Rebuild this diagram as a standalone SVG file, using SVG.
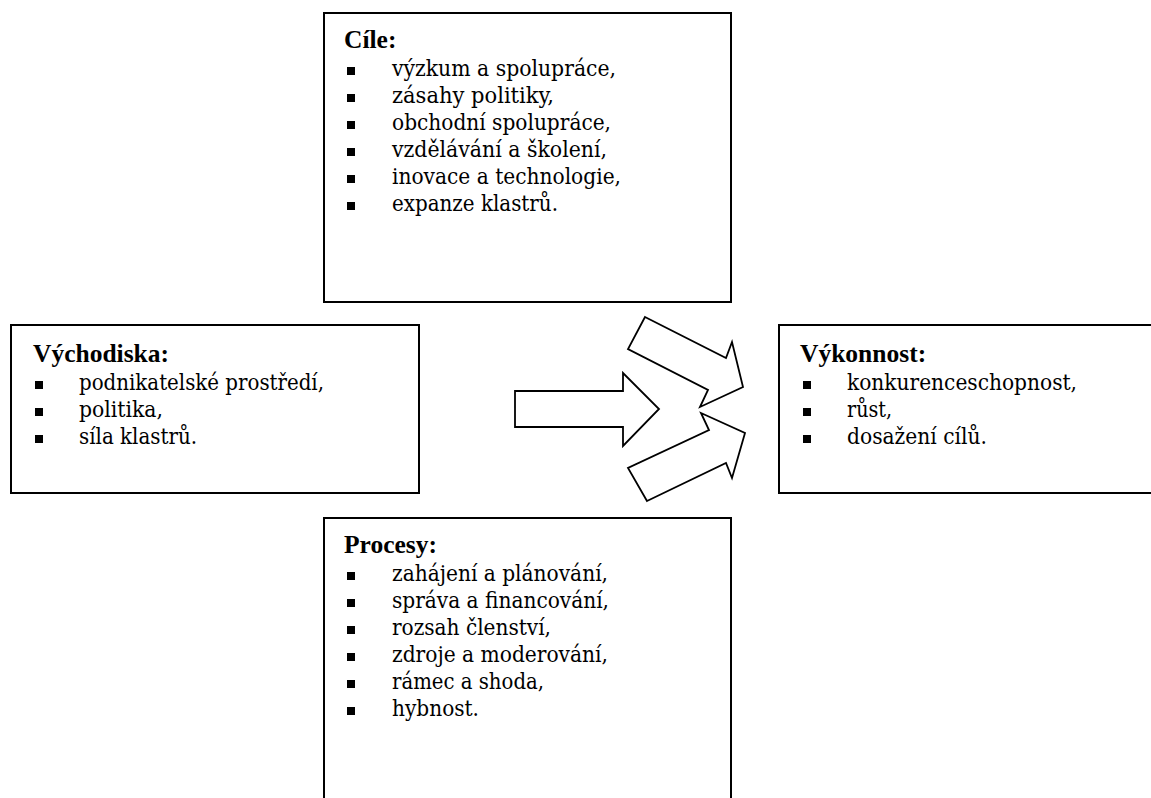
<svg xmlns="http://www.w3.org/2000/svg" width="1151" height="798" viewBox="0 0 1151 798">
<style>
.box{fill:#fff;stroke:#000;stroke-width:2}
.arr{fill:#fff;stroke:#000;stroke-width:1.8;stroke-linejoin:miter}
text{font-family:"DejaVu Serif Condensed","DejaVu Serif",serif;font-size:23px;font-weight:normal;fill:#000}
text.t{font-family:"Liberation Serif","Times New Roman",serif;font-size:25.5px;font-weight:bold}
.b{fill:#000}
</style>
<rect width="1151" height="798" fill="#fff"/>
<g id="cile">
<rect class="box" x="324" y="13" width="407" height="289"/>
<text class="t" x="344" y="48">Cíle:</text>
<rect class="b" x="347" y="67" width="8" height="8"/><text x="392" y="76" textLength="224" lengthAdjust="spacingAndGlyphs">výzkum a spolupráce,</text>
<rect class="b" x="347" y="94" width="8" height="8"/><text x="392" y="103" textLength="162" lengthAdjust="spacingAndGlyphs">zásahy politiky,</text>
<rect class="b" x="347" y="121" width="8" height="8"/><text x="392" y="130" textLength="219" lengthAdjust="spacingAndGlyphs">obchodní spolupráce,</text>
<rect class="b" x="347" y="148" width="8" height="8"/><text x="392" y="157" textLength="215" lengthAdjust="spacingAndGlyphs">vzdělávání a školení,</text>
<rect class="b" x="347" y="175" width="8" height="8"/><text x="392" y="184" textLength="229" lengthAdjust="spacingAndGlyphs">inovace a technologie,</text>
<rect class="b" x="347" y="202" width="8" height="8"/><text x="392" y="211" textLength="166" lengthAdjust="spacingAndGlyphs">expanze klastrů.</text>
</g>
<g id="vychodiska">
<rect class="box" x="11" y="325" width="408" height="168"/>
<text class="t" x="33" y="362">Východiska:</text>
<rect class="b" x="35" y="381" width="8" height="8"/><text x="79" y="390" textLength="245" lengthAdjust="spacingAndGlyphs">podnikatelské prostředí,</text>
<rect class="b" x="35" y="408" width="8" height="8"/><text x="79" y="417" textLength="84" lengthAdjust="spacingAndGlyphs">politika,</text>
<rect class="b" x="35" y="435" width="8" height="8"/><text x="79" y="444" textLength="118" lengthAdjust="spacingAndGlyphs">síla klastrů.</text>
</g>
<g id="vykonnost">
<rect class="box" x="779" y="325" width="400" height="168"/>
<text class="t" x="800" y="362">Výkonnost:</text>
<rect class="b" x="803" y="381" width="8" height="8"/><text x="847" y="390" textLength="230" lengthAdjust="spacingAndGlyphs">konkurenceschopnost,</text>
<rect class="b" x="803" y="408" width="8" height="8"/><text x="847" y="417" textLength="45" lengthAdjust="spacingAndGlyphs">růst,</text>
<rect class="b" x="803" y="435" width="8" height="8"/><text x="847" y="444" textLength="140" lengthAdjust="spacingAndGlyphs">dosažení cílů.</text>
</g>
<g id="procesy">
<rect class="box" x="324" y="518" width="407" height="300"/>
<text class="t" x="344" y="553">Procesy:</text>
<rect class="b" x="347" y="572" width="8" height="8"/><text x="392" y="581" textLength="216" lengthAdjust="spacingAndGlyphs">zahájení a plánování,</text>
<rect class="b" x="347" y="599" width="8" height="8"/><text x="392" y="608" textLength="217" lengthAdjust="spacingAndGlyphs">správa a financování,</text>
<rect class="b" x="347" y="626" width="8" height="8"/><text x="392" y="635" textLength="159" lengthAdjust="spacingAndGlyphs">rozsah členství,</text>
<rect class="b" x="347" y="653" width="8" height="8"/><text x="392" y="662" textLength="216" lengthAdjust="spacingAndGlyphs">zdroje a moderování,</text>
<rect class="b" x="347" y="680" width="8" height="8"/><text x="392" y="689" textLength="152" lengthAdjust="spacingAndGlyphs">rámec a shoda,</text>
<rect class="b" x="347" y="707" width="8" height="8"/><text x="392" y="716" textLength="87" lengthAdjust="spacingAndGlyphs">hybnost.</text>
</g>
<g id="connectors">
<polygon class="arr" points="515,391 623,391 623,373 659,409 623,446 623,427 515,427"/>
<polygon class="arr" points="645,317 726,358 732,342 743,387 700,407 708,390 628,349"/>
<polygon class="arr" points="647,501 726,463 732,478 745,433 701,413 709,430 628,468"/>
</g>
</svg>
